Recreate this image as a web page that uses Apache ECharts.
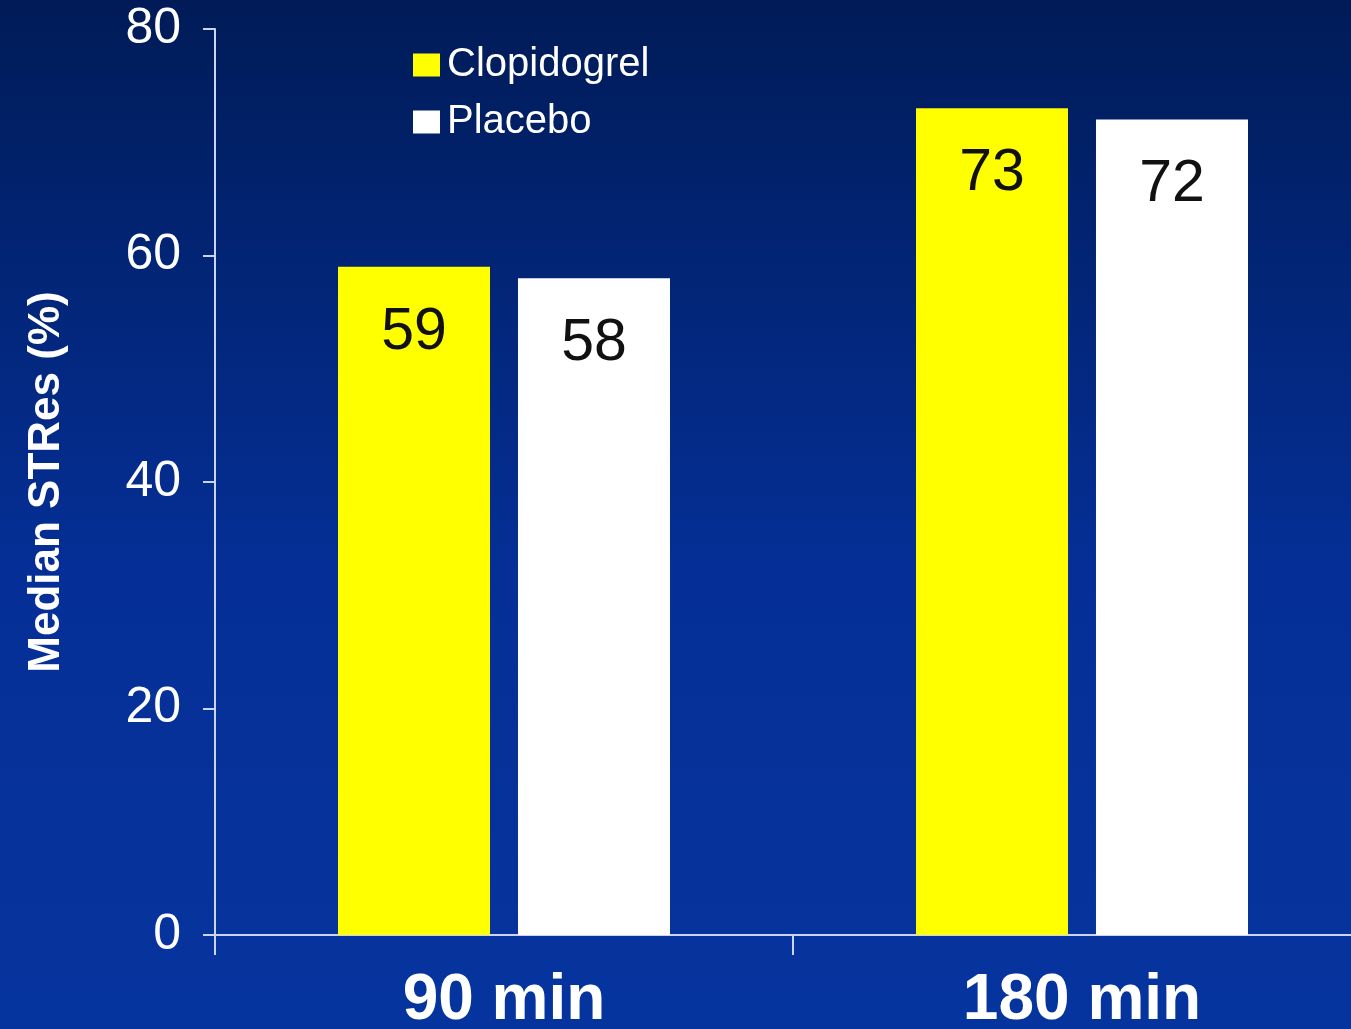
<!DOCTYPE html>
<html>
<head>
<meta charset="utf-8">
<script src="https://cdn.jsdelivr.net/npm/echarts@6/dist/echarts.min.js"></script>
<style>
  html, body { margin: 0; padding: 0; }
  #chart { width: 1351px; height: 1029px; }
</style>
</head>
<body>
<div id="chart"></div>
<script>
// Median ST-segment resolution by time point
const categories = ['90 min', '180 min'];
const clopidogrel = [59, 73];
const placebo = [58, 72];
const yTicks = [0, 20, 40, 60, 80];

const FONT = '"Liberation Sans", Arial, sans-serif';
const AXIS_COLOR = '#c9d5f2';

const chart = echarts.init(document.getElementById('chart'));

const barLabel = {
  show: true,
  position: 'insideTop',
  distance: 36,
  color: '#111111',
  fontSize: 59,
  fontFamily: FONT
};

chart.setOption({
  backgroundColor: {
    type: 'linear', x: 0, y: 0, x2: 0, y2: 1,
    colorStops: [
      { offset: 0, color: '#001b57' },
      { offset: 0.3, color: '#02267a' },
      { offset: 0.55, color: '#052f96' },
      { offset: 1, color: '#06349e' }
    ]
  },
  animation: false,
  textStyle: { fontFamily: FONT },
  legend: {
    orient: 'vertical',
    left: 408,
    top: 40,
    itemWidth: 27,
    itemHeight: 23,
    itemGap: 17,
    icon: 'rect',
    textStyle: { color: '#ffffff', fontSize: 40, fontFamily: FONT, padding: [0, 0, 0, 2] },
    data: ['Clopidogrel', 'Placebo']
  },
  grid: {
    left: 215, right: -20, top: 29, bottom: 94,
    containLabel: false,
    outerBoundsMode: 'none'
  },
  xAxis: {
    type: 'category',
    data: categories,
    axisLine: { lineStyle: { color: AXIS_COLOR, width: 2 } },
    axisTick: { show: true, length: 20, lineStyle: { color: AXIS_COLOR, width: 2 } },
    axisLabel: { color: '#ffffff', fontSize: 64, fontWeight: 'bold', fontFamily: FONT, margin: 34 }
  },
  yAxis: {
    type: 'value',
    min: yTicks[0],
    max: yTicks[yTicks.length - 1],
    interval: yTicks[1] - yTicks[0],
    name: 'Median STRes (%)',
    nameLocation: 'middle',
    nameGap: 146,
    nameTextStyle: { color: '#ffffff', fontSize: 44, fontWeight: 'bold', fontFamily: FONT },
    axisLine: { show: true, lineStyle: { color: AXIS_COLOR, width: 2 } },
    axisTick: { show: true, length: 12, lineStyle: { color: AXIS_COLOR, width: 2 } },
    axisLabel: { color: '#ffffff', fontSize: 50, fontFamily: FONT, margin: 34 },
    splitLine: { show: false }
  },
  series: [
    {
      name: 'Clopidogrel',
      type: 'bar',
      data: clopidogrel,
      barWidth: '26.3%',
      barGap: '18.4%',
      itemStyle: { color: '#ffff00' },
      label: barLabel
    },
    {
      name: 'Placebo',
      type: 'bar',
      data: placebo,
      barWidth: '26.3%',
      itemStyle: { color: '#ffffff' },
      label: barLabel
    }
  ]
});
</script>
</body>
</html>
